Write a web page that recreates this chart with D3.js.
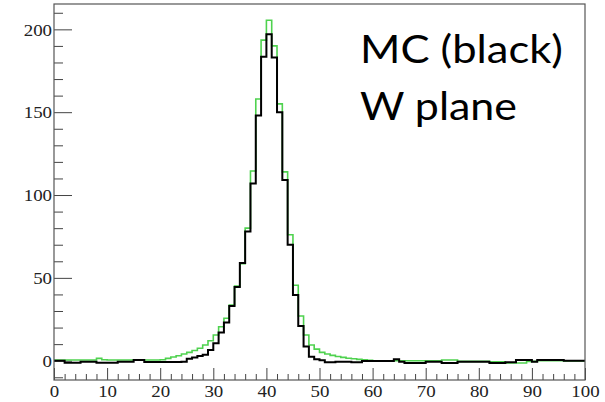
<!DOCTYPE html>
<html>
<head>
<meta charset="utf-8">
<script src="https://cdn.jsdelivr.net/npm/d3@7"></script>
<style>
  html, body { margin: 0; padding: 0; background: #fff; }
  svg { display: block; }
  .tl { font-family: "Liberation Serif", "Times New Roman", "DejaVu Serif", serif !important; }
</style>
</head>
<body>
<svg id="chart" width="605" height="402"></svg>
<script>
// ---- data (100 bins of width 1 from 0 to 100) ----
const binEdgesStart = 0;
const binWidth = 1;
const blackValues = [
  0, 0, -1.2, -1.2, -1.2, -0.6, -0.6, -0.6, -1.2, -1.2,
  -1.2, -1.2, -0.6, -0.6, -0.6, 0.4, 0.4, -0.8, -0.8, -0.8,
  -0.8, -0.8, -0.8, -0.8, -0.6, 1.2, 2, 2.8, 3.6, 6.5,
  10.5, 17, 23, 33, 44.5, 59, 78, 107, 148, 183.5,
  197, 183, 150, 109, 70, 39.6, 21, 8.5, 2.4, 0.8,
  0.2, -1, -1, -0.6, -0.6, -0.6, -1, -1, -0.2, -0.2,
  -0.2, -0.2, -0.2, -0.2, 0.8, -0.6, -1.4, -1.4, -1.4, -1.4,
  -0.6, -0.6, -0.6, -1.4, -1.4, -1.4, -0.6, -0.6, -0.6, -0.6,
  -0.6, -0.6, -1.4, -1.4, -1.4, -1, -1, 0.4, 0.4, 0.4,
  -0.6, 0.4, 0.4, 0.4, 0.4, 0.4, 0, 0, 0, 0
];
const greenValues = [
  0.4, 0.4, 0.4, 0.4, 0.4, 0.4, 0.4, 0.4, 1.4, 0.6,
  0.4, 0.4, 0.4, 0.4, 0.4, 0.4, 0.4, 0.4, 0.4, 0.4,
  0.6, 1.4, 2.2, 3, 4, 5, 6.2, 7.5, 9.5, 12,
  15.5, 20.5, 25.6, 33.6, 45, 58.5, 80, 114.5, 158, 193.5,
  205.5, 190, 155, 114, 76, 45.5, 27, 15.5, 9.5, 7,
  5, 4, 3.2, 2.5, 2, 1.5, 1.2, 0.8, 0.5, 0.3,
  0, 0, 0, 0, 0, 0, 0, 0, 0, 0,
  0, 0, 0, 0.4, 0.4, 0.4, -0.4, -0.4, -0.4, -0.4,
  -0.4, -0.4, -0.6, -0.6, -0.6, -1.4, -1.4, -1.4, -1.4, -0.4,
  -0.4, 0, 0, 0, 0, 0, -0.2, -0.2, -0.2, -0.2
];
const xMajorTicks = [0, 10, 20, 30, 40, 50, 60, 70, 80, 90, 100];
const yMajorTicks = [0, 50, 100, 150, 200];
const annotationLines = ["MC (black)", "W plane"];

// ---- layout ----
const mLeft = 54, mRight = 585, mTop = 4, mBottom = 380;
const svg = d3.select("#chart");

const x = d3.scaleLinear().domain([0, 100]).range([mLeft, mRight]);
const y = d3.scaleLinear().domain([-11.65, 215.3]).range([mBottom, mTop]);

const xMinor = d3.range(0, 100.001, 2).filter(v => v % 10 !== 0);
const yMinor = d3.range(-10, 215, 10).filter(v => v % 50 !== 0);

// minor ticks (inward)
svg.append("g").attr("transform", `translate(0,${mBottom})`)
  .call(d3.axisBottom(x).tickValues(xMinor).tickSizeInner(-6).tickSizeOuter(0).tickFormat(""))
  .call(g => g.select(".domain").remove())
  .call(g => g.selectAll("line").attr("stroke", "#444"));
svg.append("g").attr("transform", `translate(${mLeft},0)`)
  .call(d3.axisLeft(y).tickValues(yMinor).tickSizeInner(-9).tickSizeOuter(0).tickFormat(""))
  .call(g => g.select(".domain").remove())
  .call(g => g.selectAll("line").attr("stroke", "#444"));

// major ticks
const sx = 1.18;
const gx = svg.append("g").attr("transform", `translate(0,${mBottom})`)
  .call(d3.axisBottom(x).tickValues(xMajorTicks).tickSizeInner(-12).tickSizeOuter(0).tickPadding(0))
  .attr("font-family", null)
  .call(g => g.select(".domain").remove())
  .call(g => g.selectAll("line").attr("stroke", "#444"));
gx.selectAll("text")
  .attr("class", "tl")
  .attr("y", 17).attr("dy", null)
  .style("font-size", "16px").attr("fill", "#222")
  .attr("transform", `scale(${sx},1)`);

const gy = svg.append("g").attr("transform", `translate(${mLeft},0)`)
  .call(d3.axisLeft(y).tickValues(yMajorTicks).tickSizeInner(-18).tickSizeOuter(0))
  .attr("font-family", null)
  .call(g => g.select(".domain").remove())
  .call(g => g.selectAll("line").attr("stroke", "#444"));
gy.selectAll("text")
  .attr("class", "tl")
  .attr("x", -2 / sx).attr("dy", "0.36em")
  .attr("text-anchor", "end")
  .style("font-size", "16px").attr("fill", "#222")
  .attr("transform", `scale(${sx},1)`);

// histograms
function stepPoints(vals) {
  const pts = vals.map((v, i) => [binEdgesStart + i * binWidth, v]);
  pts.push([binEdgesStart + vals.length * binWidth, vals[vals.length - 1]]);
  return pts;
}
const line = d3.line().x(d => x(d[0])).y(d => y(d[1])).curve(d3.curveStepAfter);

svg.append("path").datum(stepPoints(greenValues))
  .attr("d", line).attr("fill", "none")
  .attr("stroke", "#4fd24f").attr("stroke-width", 1.6);
svg.append("path").datum(stepPoints(blackValues))
  .attr("d", line).attr("fill", "none")
  .attr("stroke", "#000").attr("stroke-width", 2);

// frame
svg.append("rect")
  .attr("x", mLeft).attr("y", mTop)
  .attr("width", mRight - mLeft).attr("height", mBottom - mTop)
  .attr("fill", "none").attr("stroke", "#555").attr("stroke-width", 1.2);

// annotation
const annW = [203, 157];
const annBase = [63, 120];
annotationLines.forEach((t, i) => {
  svg.append("text")
    .attr("x", 360).attr("y", annBase[i])
    .attr("font-family", "Lato, 'Open Sans', sans-serif")
    .attr("font-size", 38)
    .attr("fill", "#000")
    .attr("textLength", annW[i])
    .attr("lengthAdjust", "spacingAndGlyphs")
    .text(t);
});
</script>
</body>
</html>
